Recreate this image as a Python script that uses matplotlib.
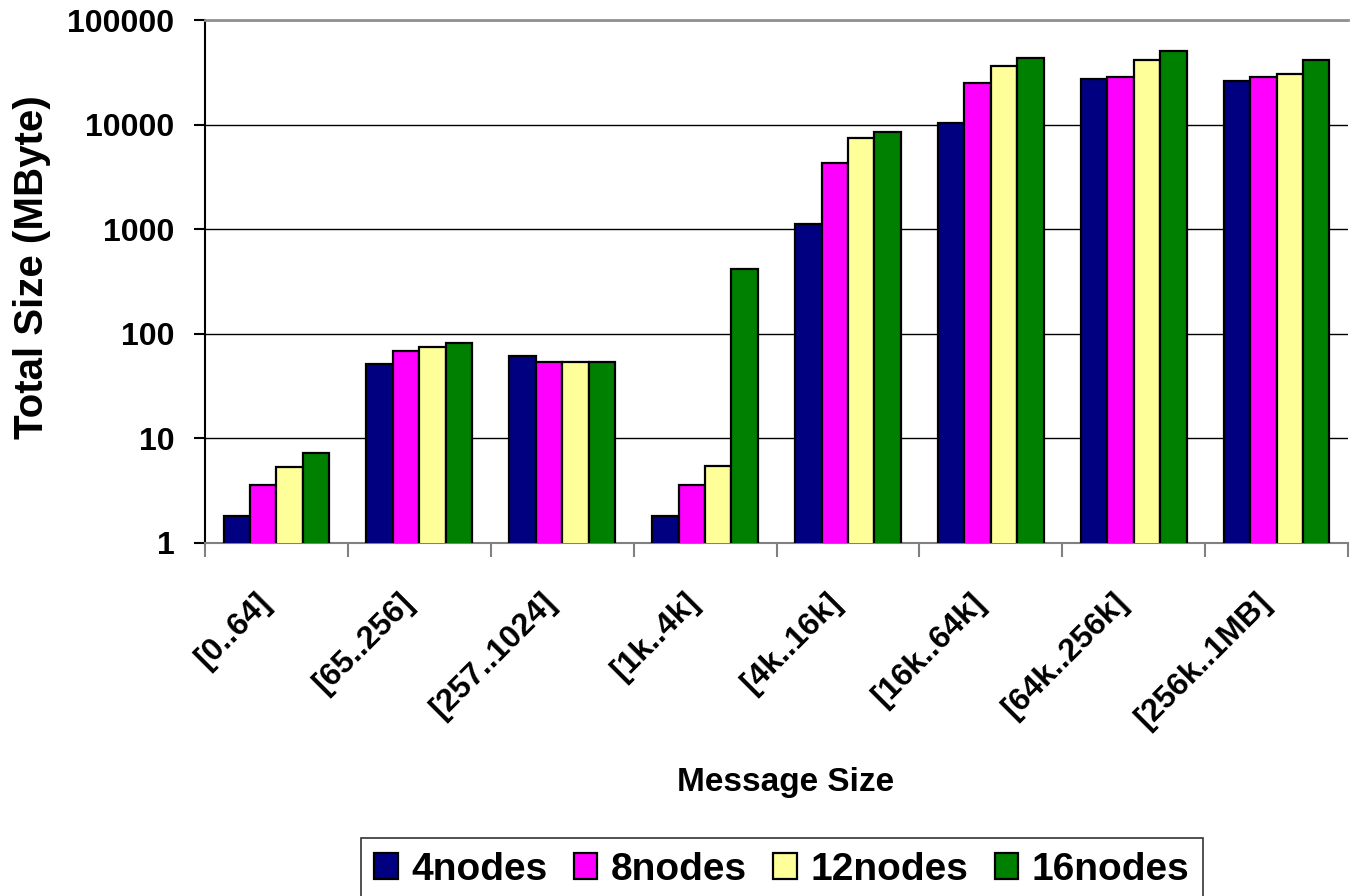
import numpy as np
import matplotlib
matplotlib.use("Agg")
import matplotlib.pyplot as plt
from matplotlib.ticker import FixedLocator, FixedFormatter, NullLocator

plt.rcParams['font.family'] = ['Liberation Sans', 'DejaVu Sans']
plt.rcParams['font.weight'] = 'bold'

categories = ['[0..64]', '[65..256]', '[257..1024]', '[1k..4k]',
              '[4k..16k]', '[16k..64k]', '[64k..256k]', '[256k..1MB]']
nodes4 = [1.8, 51, 62, 1.8, 1110, 10300, 27200, 26000]
nodes8 = [3.6, 68, 53.5, 3.6, 4250, 25000, 28800, 28800]
nodes12 = [5.3, 74.5, 53.5, 5.5, 7430, 36100, 41400, 30200]
nodes16 = [7.3, 82, 53.5, 418, 8550, 43700, 50000, 41400]
series = [('4nodes', nodes4, '#000080'),
          ('8nodes', nodes8, '#FF00FF'),
          ('12nodes', nodes12, '#FFFF99'),
          ('16nodes', nodes16, '#008000')]
yticks = [1, 10, 100, 1000, 10000, 100000]

W, H = 1351, 896
fig = plt.figure(figsize=(W / 100, H / 100), dpi=100)
ax = fig.add_axes([205 / W, 1 - 543 / H, 1143 / W, 523 / H])

x = np.arange(len(categories))
bw = 0.185
for i, (name, vals, col) in enumerate(series):
    ax.bar(x + (i - 1.5) * bw, vals, width=bw, color=col, edgecolor='black',
           linewidth=1.6, label=name, zorder=3)

ax.set_yscale('log')
ax.set_ylim(1, 100000)
ax.set_xlim(-0.5, len(categories) - 0.5)
ax.yaxis.set_major_locator(FixedLocator(yticks))
ax.yaxis.set_major_formatter(FixedFormatter([str(v) for v in yticks]))
ax.yaxis.set_minor_locator(NullLocator())
ax.grid(axis='y', color='black', linewidth=1, zorder=0)

# category boundaries get the tick marks, labels sit at the centres
ax.set_xticks(np.arange(len(categories) + 1) - 0.5, minor=False)
ax.set_xticklabels([])
ax.set_xticks(x, minor=True)
ax.set_xticklabels(categories, minor=True, rotation=45, ha='right', va='top',
                   fontsize=23, fontweight='bold')
ax.tick_params(axis='x', which='major', length=10, color='#808080', width=1.5, direction='out')
ax.tick_params(axis='x', which='minor', length=0, pad=32)
ax.tick_params(axis='y', which='major', length=8, color='black', width=1.5,
               labelsize=23, pad=14)
for lab in ax.get_yticklabels():
    lab.set_fontweight('bold')

ax.spines['right'].set_visible(False)
ax.spines['top'].set_color('#909090')
ax.spines['top'].set_linewidth(2)
ax.spines['bottom'].set_color('#808080')
ax.spines['bottom'].set_linewidth(1.5)
ax.spines['left'].set_color('black')
ax.spines['left'].set_linewidth(1.5)

fig.text(32 / W, 1 - 267 / H, 'Total Size (MByte)', rotation=90, ha='center',
         va='center', fontsize=29, fontweight='bold')
fig.text(786 / W, 1 - 782 / H, 'Message Size', ha='center', va='center',
         fontsize=24, fontweight='bold')

leg = fig.legend(loc='upper center', bbox_to_anchor=(782 / W, 1 - 838 / H),
                 ncol=4, fontsize=28, frameon=True, fancybox=False,
                 handlelength=0.6, handleheight=0.67, handletextpad=0.36,
                 columnspacing=0.67, borderpad=0.35, borderaxespad=0)
leg.get_frame().set_edgecolor('black')
leg.get_frame().set_linewidth(1.2)
for t in leg.get_texts():
    t.set_fontweight('bold')

fig.savefig('out.png', dpi=100)
